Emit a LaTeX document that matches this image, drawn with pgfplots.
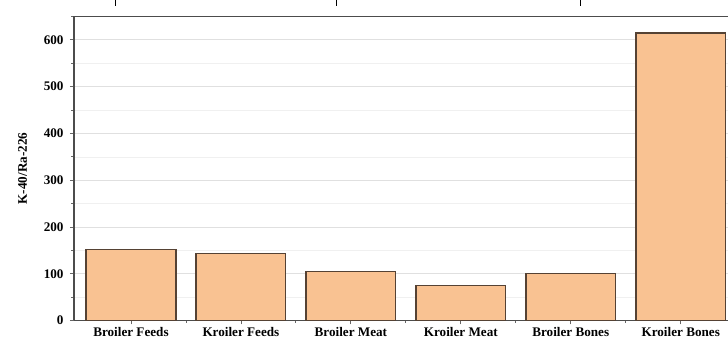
\documentclass[border=0pt]{standalone}
\usepackage{pgfplots}
\pgfplotsset{compat=1.18}
\usepackage{fontspec}
\setmainfont{Liberation Serif}
\definecolor{barfill}{RGB}{249,194,146}
\definecolor{baredge}{RGB}{85,66,52}
\begin{document}
\begin{tikzpicture}
\begin{axis}[
  scale only axis,
  width=654bp, height=304bp,
  xmin=-0.518, xmax=5.43,
  ymin=0, ymax=650,
  axis x line*=box, axis y line*=left,
  axis line style={draw=black!70, line width=1.5pt},
  xtick={0,1,2,3,4,5},
  xticklabels={Broiler Feeds,Kroiler Feeds,Broiler Meat,Kroiler Meat,Broiler Bones,Kroiler Bones},
  minor xtick={0.5,1.5,2.5,3.5,4.5},
  ytick={0,100,...,600},
  minor ytick={50,150,...,650},
  tick align=outside,
  xtick pos=bottom, ytick pos=left,
  major tick length=4bp, minor tick length=2.5bp,
  tick style={draw=black!60, line width=0.8pt},
  ymajorgrids, yminorgrids,
  major grid style={draw=black!12, line width=0.8pt},
  minor grid style={draw=black!6, line width=0.6pt},
  ticklabel style={font=\fontsize{13.2}{14}\selectfont\bfseries},
  /pgf/number format/assume math mode=true,
  xticklabel style={yshift=1bp},
  yticklabel style={xshift=-3bp},
  ylabel={K-40/Ra-226},
  ylabel style={font=\fontsize{13.2}{14}\selectfont\bfseries, yshift=10bp},
]
\addplot[ybar, bar width=0.815, fill=barfill, draw=baredge, line width=1.5pt]
  coordinates {(0,152) (1,143) (2,105) (3,75) (4,100) (5,615)};
\end{axis}
\pgfresetboundingbox
\path (current axis.south west) ++(-74bp,-23bp) coordinate (bbA);
\path (current axis.north east) ++(0bp,16bp) coordinate (bbB);
\draw[line width=1pt] ([xshift=41bp]current axis.north west) ++(0,16bp) -- ++(0,-6bp);
\draw[line width=1pt] ([xshift=262bp]current axis.north west) ++(0,16bp) -- ++(0,-6bp);
\draw[line width=1pt] ([xshift=506bp]current axis.north west) ++(0,16bp) -- ++(0,-6bp);
\useasboundingbox (bbA) rectangle (bbB);
\end{tikzpicture}
\end{document}
